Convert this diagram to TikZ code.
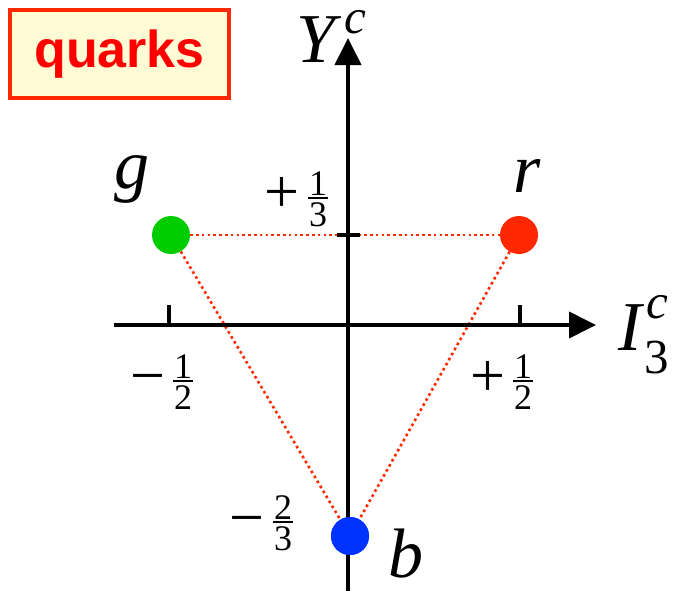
\documentclass[tikz,border=0pt]{standalone}
\usepackage{fontspec}
\setmainfont{Liberation Serif}
\newfontfamily\labelsans{Liberation Sans}
\usetikzlibrary{arrows.meta}
\definecolor{gcol}{RGB}{0,204,0}
\definecolor{rcol}{RGB}{255,40,0}
\definecolor{bcol}{RGB}{0,51,255}
\definecolor{boxfill}{RGB}{255,252,213}
\definecolor{boxline}{RGB}{255,40,0}
\definecolor{txtred}{RGB}{255,0,0}
\tikzset{
  quarkdot/.style={circle,inner sep=0pt,minimum size=38pt,draw=none},
  axisline/.style={line width=4pt,-{Triangle[length=27pt,width=26pt]}},
  tickline/.style={line width=3.5pt},
  dotline/.style={draw=rcol,line width=2.6pt,dash pattern=on 2.6pt off 3.2pt},
  letterlab/.style={inner sep=0pt,anchor=base,font=\itshape\fontsize{70}{74}\selectfont},
  suplab/.style={inner sep=0pt,anchor=base,font=\itshape\fontsize{49}{52}\selectfont},
  sublab/.style={inner sep=0pt,anchor=base,font=\fontsize{49}{52}\selectfont},
  signlab/.style={inner sep=0pt,anchor=base,font=\fontsize{62}{66}\selectfont},
  diglab/.style={inner sep=0pt,anchor=base,font=\fontsize{36}{38}\selectfont},
  fracbar/.style={line width=2pt},
}
\begin{document}
\begin{tikzpicture}[x=1pt,y=-1pt]
\useasboundingbox (0,0) rectangle (673,595);
% label box
\node[draw=boxline,fill=boxfill,line width=4.3pt,minimum width=219pt,minimum height=88pt,inner sep=0pt,
      text=txtred,font=\labelsans\bfseries\fontsize{52}{56}\selectfont] (box) at (119.5,54) {quarks};
% nodes
\node[quarkdot,fill=gcol] (g) at (171,235) {};
\node[quarkdot,fill=rcol] (r) at (519,235) {};
\node[quarkdot,fill=bcol] (b) at (350,536) {};
% dotted triangle
\draw[dotline] (g) -- (r);
\draw[dotline] (g) -- (b);
\draw[dotline] (r) -- (b);
% axes
\coordinate (ybot) at (348,591);
\coordinate (ytop) at (348,38);
\coordinate (xleft) at (114,325);
\coordinate (xright) at (596,325);
\draw[axisline] (ybot) -- (ytop);
\draw[axisline] (xleft) -- (xright);
% ticks
\coordinate (t1a) at (169,325); \coordinate (t1b) at (169,305);
\coordinate (t2a) at (520,325); \coordinate (t2b) at (520,305);
\coordinate (t3a) at (337,235); \coordinate (t3b) at (360,235);
\draw[tickline] (t1a) -- (t1b);
\draw[tickline] (t2a) -- (t2b);
\draw[tickline] (t3a) -- (t3b);
% blue dot over axis
\node[quarkdot,fill=bcol] (b2) at (350,536) {};
% colour letters
\node[letterlab] (lg) at (132,188) {g};
\node[letterlab] (lr) at (527,192) {r};
\node[letterlab] (lb) at (406,577) {b};
% axis labels
\node[letterlab] (lY) at (316,62) {Y};
\node[suplab] (lYc) at (355,33) {c};
\node[letterlab] (lI) at (630,350) {I};
\node[suplab] (lIc) at (657,318) {c};
\node[sublab] (lI3) at (657,373) {3};
% fraction +1/3
\node[signlab] (s1) at (282,212) {+};
\node[diglab] (n1) at (318,195) {1};
\node[diglab] (d1) at (318,226) {3};
\coordinate (b1l) at (308,198); \coordinate (b1r) at (328,198);
\draw[fracbar] (b1l) -- (b1r);
% fraction -1/2
\node[signlab] (s2) at (147.5,396) {−};
\node[diglab] (n2) at (183,378) {1};
\node[diglab] (d2) at (183,409) {2};
\coordinate (b2l) at (173,381); \coordinate (b2r) at (193,381);
\draw[fracbar] (b2l) -- (b2r);
% fraction +1/2
\node[signlab] (s3) at (487.5,396) {+};
\node[diglab] (n3) at (523,378) {1};
\node[diglab] (d3) at (523,409) {2};
\coordinate (b3l) at (513,381); \coordinate (b3r) at (533,381);
\draw[fracbar] (b3l) -- (b3r);
% fraction -2/3
\node[signlab] (s4) at (247,538) {−};
\node[diglab] (n4) at (283,519) {2};
\node[diglab] (d4) at (283,550) {3};
\coordinate (b4l) at (273,522); \coordinate (b4r) at (293,522);
\draw[fracbar] (b4l) -- (b4r);
\end{tikzpicture}
\end{document}
